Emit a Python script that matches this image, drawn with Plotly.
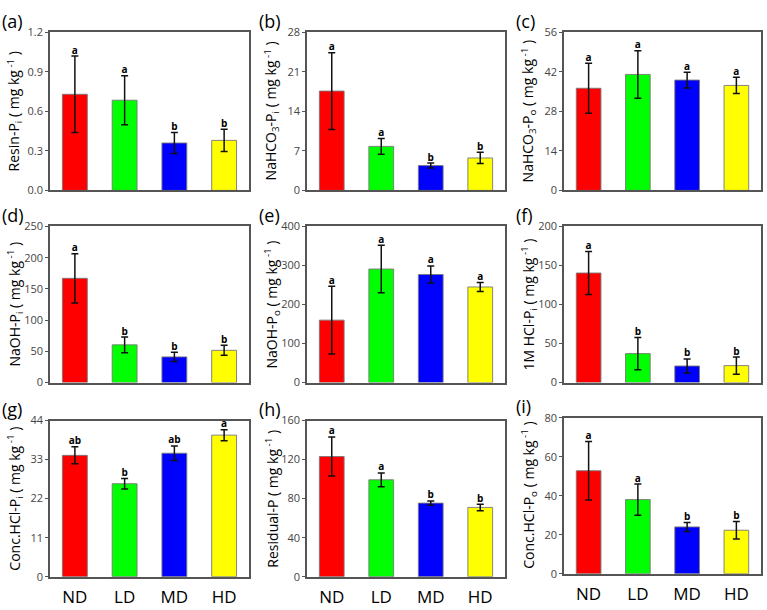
import plotly.graph_objects as go

categories = ["ND", "LD", "MD", "HD"]
colors = ["#ff0000", "#00ff00", "#0000ff", "#ffff00"]

panel_labels = ["(a)", "(b)", "(c)", "(d)", "(e)", "(f)", "(g)", "(h)", "(i)"]
y_titles = [
    "Resin-P<sub>i</sub> ( mg kg<sup> -1</sup> )",
    "NaHCO<sub>3</sub>-P<sub>i</sub> ( mg kg<sup> -1</sup> )",
    "NaHCO<sub>3</sub>-P<sub>o</sub> ( mg kg<sup> -1</sup> )",
    "NaOH-P<sub>i</sub> ( mg kg<sup> -1</sup> )",
    "NaOH-P<sub>o</sub> ( mg kg<sup> -1</sup> )",
    "1M HCl-P<sub>i</sub> ( mg kg<sup> -1</sup> )",
    "Conc.HCl-P<sub>i</sub> ( mg kg<sup> -1</sup> )",
    "Residual-P ( mg kg<sup> -1</sup> )",
    "Conc.HCl-P<sub>o</sub> ( mg kg<sup> -1</sup> )",
]

resin_pi = [0.73, 0.685, 0.36, 0.38]
resin_pi_err = [0.29, 0.186, 0.08, 0.085]
nahco3_pi = [17.6, 7.8, 4.4, 5.75]
nahco3_pi_err = [6.8, 1.4, 0.45, 1.0]
nahco3_po = [36.2, 41.1, 39.1, 37.2]
nahco3_po_err = [8.9, 8.4, 2.8, 2.9]
naoh_pi = [167, 60.4, 41.1, 51.6]
naoh_pi_err = [39.5, 12.5, 7.3, 8.0]
naoh_po = [160, 291, 277, 245]
naoh_po_err = [87, 61, 22, 11.5]
hcl_pi = [140.4, 37.1, 21.2, 21.7]
hcl_pi_err = [27.7, 20.6, 9.0, 11.0]
conc_hcl_pi = [34.2, 26.2, 34.8, 39.9]
conc_hcl_pi_err = [2.4, 1.5, 2.05, 1.55]
residual_p = [123.2, 99.3, 75.4, 71.0]
residual_p_err = [20.0, 7.0, 2.3, 3.3]
conc_hcl_po = [52.8, 38.0, 24.0, 22.3]
conc_hcl_po_err = [15.0, 8.0, 2.3, 4.5]

means = [resin_pi, nahco3_pi, nahco3_po, naoh_pi, naoh_po, hcl_pi, conc_hcl_pi, residual_p, conc_hcl_po]
errs = [resin_pi_err, nahco3_pi_err, nahco3_po_err, naoh_pi_err, naoh_po_err, hcl_pi_err,
        conc_hcl_pi_err, residual_p_err, conc_hcl_po_err]
letters = [
    ["a", "a", "b", "b"], ["a", "a", "b", "b"], ["a", "a", "a", "a"],
    ["a", "b", "b", "b"], ["a", "a", "a", "a"], ["a", "b", "b", "b"],
    ["ab", "b", "ab", "a"], ["a", "a", "b", "b"], ["a", "a", "b", "b"],
]
y_max = [1.2, 28, 56, 250, 400, 200, 44, 160, 80]
y_dtick = [0.3, 7, 14, 50, 100, 50, 11, 40, 20]
tick_fmt = [".1f", "d", "d", "d", "d", "d", "d", "d", "d"]

W, H = 767, 610
col_px = [(50, 249), (307, 505), (564, 761)]
row_px = [(25, 187), (224, 384), (423, 583)]

fig = go.Figure()
font = "Open Sans, Noto Sans, DejaVu Sans, sans-serif"
annotations = []

for i in range(9):
    r, c = divmod(i, 3)
    ax = "" if i == 0 else str(i + 1)
    xref, yref = "x" + ax, "y" + ax
    x0, x1 = col_px[c]
    yt, yb = row_px[r]
    if i == 8:
        yt, yb = yt - 3, yb - 3
    fig.add_trace(go.Bar(
        x=categories, y=means[i], xaxis=xref, yaxis=yref,
        marker=dict(color=colors, line=dict(color="rgba(120,120,120,0.9)", width=1)),
        width=0.5,
        error_y=dict(type="data", array=errs[i], color="#111111", thickness=1.5, width=3.5),
        showlegend=False, hoverinfo="skip",
    ))
    tops = [m + e for m, e in zip(means[i], errs[i])]
    fig.add_trace(go.Scatter(
        x=categories, y=tops, xaxis=xref, yaxis=yref, mode="text",
        text=letters[i], textposition="top center",
        textfont=dict(size=10, color="#000000", family=font, weight="bold"),
        showlegend=False, hoverinfo="skip", cliponaxis=False,
    ))
    fig.layout["xaxis" + ax] = dict(
        domain=[x0 / W, x1 / W], anchor=yref, range=[-0.5, 3.5],
        showline=True, mirror=True, linecolor="#555555", linewidth=1.5,
        showgrid=False, zeroline=False, ticks="",
        showticklabels=(r == 2), ticklabelstandoff=4,
        tickfont=dict(size=17, color="#000000", family=font),
    )
    fig.layout["yaxis" + ax] = dict(
        domain=[1 - yb / H, 1 - yt / H], anchor=xref, range=[0, y_max[i]],
        tick0=0, dtick=y_dtick[i], tickformat=tick_fmt[i],
        showline=True, mirror=True, linecolor="#555555", linewidth=1.5,
        showgrid=False, zeroline=False, ticks="outside", ticklen=3,
        tickcolor="#555555", tickwidth=1,
        tickfont=dict(size=11, color="#444444", family=font),
    )
    annotations.append(dict(
        text=y_titles[i], xref="paper", yref="paper",
        x=(x0 - 35) / W, y=1 - (yt + yb) / 2 / H, xanchor="center", yanchor="middle",
        textangle=-90, showarrow=False,
        font=dict(size=14, color="#000000", family=font),
    ))
    annotations.append(dict(
        text=panel_labels[i], xref="paper", yref="paper",
        x=(x0 - 50) / W, y=1 - (yt - 12) / H, xanchor="left", yanchor="middle",
        showarrow=False, font=dict(size=18, color="#000000", family=font),
    ))

fig.update_layout(
    width=W, height=H, margin=dict(l=0, r=0, t=0, b=0),
    paper_bgcolor="white", plot_bgcolor="white",
    annotations=annotations, bargap=0.5,
)
fig.write_html("out.html")
